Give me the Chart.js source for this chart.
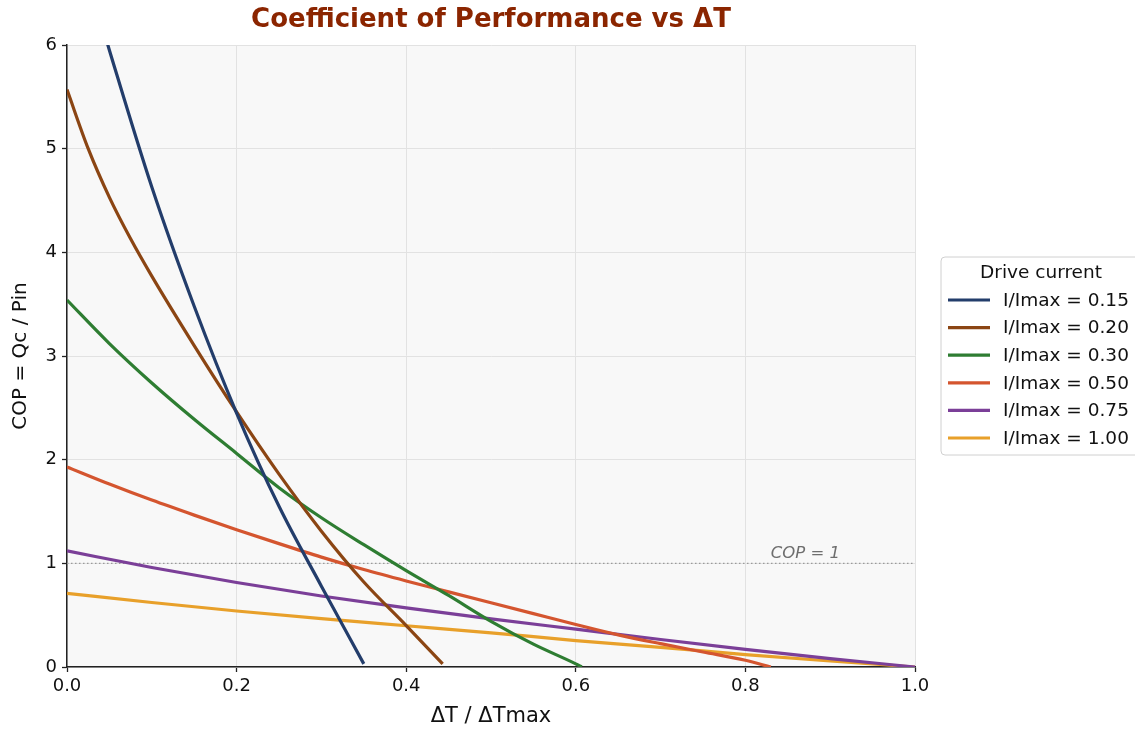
<!DOCTYPE html>
<html>
<head>
<meta charset="utf-8">
<script src="https://cdn.jsdelivr.net/npm/chart.js@4.4.0/dist/chart.umd.min.js"></script>
<style>
  body { margin: 0; background: #fff; }
  #wrap { width: 1135px; height: 729px; }
</style>
</head>
<body>
<div id="wrap"><canvas id="copChart" width="1135" height="729"></canvas></div>
<script>
// values
const seriesLabels = ['I/Imax = 0.15', 'I/Imax = 0.20', 'I/Imax = 0.30', 'I/Imax = 0.50', 'I/Imax = 0.75', 'I/Imax = 1.00'];
const seriesColors = ['#233d6b', '#8b4513', '#2e7d32', '#d4552f', '#7b3f98', '#e8a02a'];

const dt015 = [0.03, 0.05, 0.1, 0.15, 0.2, 0.25, 0.3, 0.35];
const cop015 = [6.5, 5.95, 4.63, 3.48, 2.45, 1.55, 0.78, 0.03];

const dt020 = [0, 0.025, 0.05, 0.075, 0.1, 0.15, 0.2, 0.25, 0.3, 0.35, 0.4, 0.443];
const cop020 = [5.57, 5.0, 4.53, 4.13, 3.77, 3.1, 2.46, 1.86, 1.31, 0.82, 0.4, 0.03];

const dt030 = [0, 0.05, 0.1, 0.15, 0.2, 0.25, 0.3, 0.35, 0.4, 0.45, 0.5, 0.55, 0.6, 0.607];
const cop030 = [3.54, 3.12, 2.74, 2.39, 2.06, 1.73, 1.44, 1.18, 0.93, 0.69, 0.44, 0.22, 0.03, 0.0];

const dt050 = [0, 0.05, 0.1, 0.15, 0.2, 0.25, 0.3, 0.35, 0.4, 0.45, 0.5, 0.55, 0.6, 0.65, 0.7, 0.75, 0.8, 0.83];
const cop050 = [1.93, 1.765, 1.61, 1.465, 1.325, 1.19, 1.06, 0.94, 0.83, 0.725, 0.62, 0.515, 0.41, 0.31, 0.225, 0.145, 0.065, 0.0];

const dt075 = [0, 0.1, 0.2, 0.3, 0.4, 0.5, 0.6, 0.7, 0.8, 0.9, 1.0];
const cop075 = [1.12, 0.96, 0.815, 0.685, 0.57, 0.465, 0.365, 0.265, 0.17, 0.08, 0.0];

const dt100 = [0, 0.1, 0.2, 0.3, 0.4, 0.5, 0.6, 0.7, 0.8, 0.9, 1.0];
const cop100 = [0.71, 0.622, 0.54, 0.466, 0.398, 0.33, 0.255, 0.19, 0.12, 0.058, 0.0];

const xTicks = [0, 0.2, 0.4, 0.6, 0.8, 1.0];
const refCop = 1;

const allX = [dt015, dt020, dt030, dt050, dt075, dt100];
const allY = [cop015, cop020, cop030, cop050, cop075, cop100];

const datasets = seriesLabels.map((label, i) => ({
  label: label,
  data: allX[i].map((x, j) => ({ x: x, y: allY[i][j] })),
  borderColor: seriesColors[i],
  backgroundColor: seriesColors[i],
  borderWidth: 3.2,
  pointRadius: 0,
  cubicInterpolationMode: 'monotone',
  fill: false,
}));

const FONT = "'DejaVu Sans', sans-serif";

// plot background, reference line, title and legend
const extras = {
  id: 'extras',
  beforeDraw(chart) {
    const { ctx, chartArea: a } = chart;
    ctx.save();
    ctx.fillStyle = '#f8f8f8';
    ctx.fillRect(a.left, a.top, a.right - a.left, a.bottom - a.top);
    ctx.restore();
  },
  beforeDatasetsDraw(chart) {
    const { ctx, scales } = chart;
    const yRef = scales.y.getPixelForValue(refCop);
    ctx.save();
    ctx.strokeStyle = '#9a9a9a';
    ctx.lineWidth = 1.2;
    ctx.setLineDash([1.5, 2.5]);
    ctx.beginPath();
    ctx.moveTo(scales.x.getPixelForValue(0), yRef);
    ctx.lineTo(scales.x.getPixelForValue(1), yRef);
    ctx.stroke();
    ctx.setLineDash([]);
    ctx.fillStyle = '#6e6e6e';
    ctx.font = 'italic 16.5px ' + FONT;
    ctx.textAlign = 'left';
    ctx.textBaseline = 'alphabetic';
    ctx.fillText('COP = 1', scales.x.getPixelForValue(0.83), yRef - 5);
    ctx.restore();
  },
  afterDraw(chart) {
    const { ctx, chartArea: a } = chart;
    ctx.save();
    ctx.fillStyle = '#8b2500';
    ctx.font = 'bold 26px ' + FONT;
    ctx.textAlign = 'center';
    ctx.textBaseline = 'middle';
    ctx.fillText('Coefficient of Performance vs \u0394T', (a.left + a.right) / 2, 20);

    // legend box
    const bx = 941, by = 257, bw = 200, bh = 198;
    ctx.beginPath();
    ctx.roundRect(bx, by, bw, bh, 4);
    ctx.fillStyle = 'rgba(255,255,255,0.85)';
    ctx.fill();
    ctx.strokeStyle = '#d0d0d0';
    ctx.lineWidth = 1;
    ctx.stroke();

    ctx.fillStyle = '#111';
    ctx.font = '18.5px ' + FONT;
    ctx.textAlign = 'center';
    ctx.fillText('Drive current', 1041, 273);
    ctx.textAlign = 'left';
    chart.data.datasets.forEach((ds, i) => {
      const yy = 300 + i * 27.6;
      ctx.strokeStyle = ds.borderColor;
      ctx.lineWidth = 3.2;
      ctx.beginPath();
      ctx.moveTo(948, yy);
      ctx.lineTo(990, yy);
      ctx.stroke();
      ctx.fillStyle = '#111';
      ctx.fillText(ds.label, 1003, yy + 1);
    });
    ctx.restore();
  },
};

new Chart(document.getElementById('copChart'), {
  type: 'line',
  data: { datasets: datasets },
  options: {
    responsive: false,
    animation: false,
    layout: { padding: { top: 45, right: 220, bottom: 0, left: 0 } },
    plugins: {
      legend: { display: false },
      title: { display: false },
      tooltip: { enabled: false },
    },
    scales: {
      x: {
        type: 'linear',
        min: 0,
        max: 1,
        afterFit: (s) => { s.height = 62; },
        afterBuildTicks: (s) => { s.ticks = xTicks.map((v) => ({ value: v })); },
        ticks: {
          callback: (v) => Number(v).toFixed(1),
          color: '#111',
          font: { family: FONT, size: 18 },
          padding: 4,
          maxRotation: 0,
        },
        grid: { color: '#e2e2e2', lineWidth: 1, tickColor: '#222', tickLength: 5, tickWidth: 1.3 },
        border: { display: true, color: '#222', width: 1.5 },
        title: {
          display: true,
          text: '\u0394T / \u0394Tmax',
          color: '#111',
          font: { family: FONT, size: 21 },
          padding: { top: 0, bottom: 0 },
        },
      },
      y: {
        min: 0,
        max: 6,
        afterFit: (s) => { s.width = 67; },
        ticks: {
          stepSize: 1,
          color: '#111',
          font: { family: FONT, size: 18 },
          padding: 5,
        },
        grid: { color: '#e2e2e2', lineWidth: 1, tickColor: '#222', tickLength: 5, tickWidth: 1.3 },
        border: { display: true, color: '#222', width: 1.5 },
        title: {
          display: true,
          text: 'COP = Qc / Pin',
          color: '#111',
          font: { family: FONT, size: 20 },
          padding: { top: 9, bottom: 0 },
        },
      },
    },
  },
  plugins: [extras],
});
</script>
</body>
</html>
